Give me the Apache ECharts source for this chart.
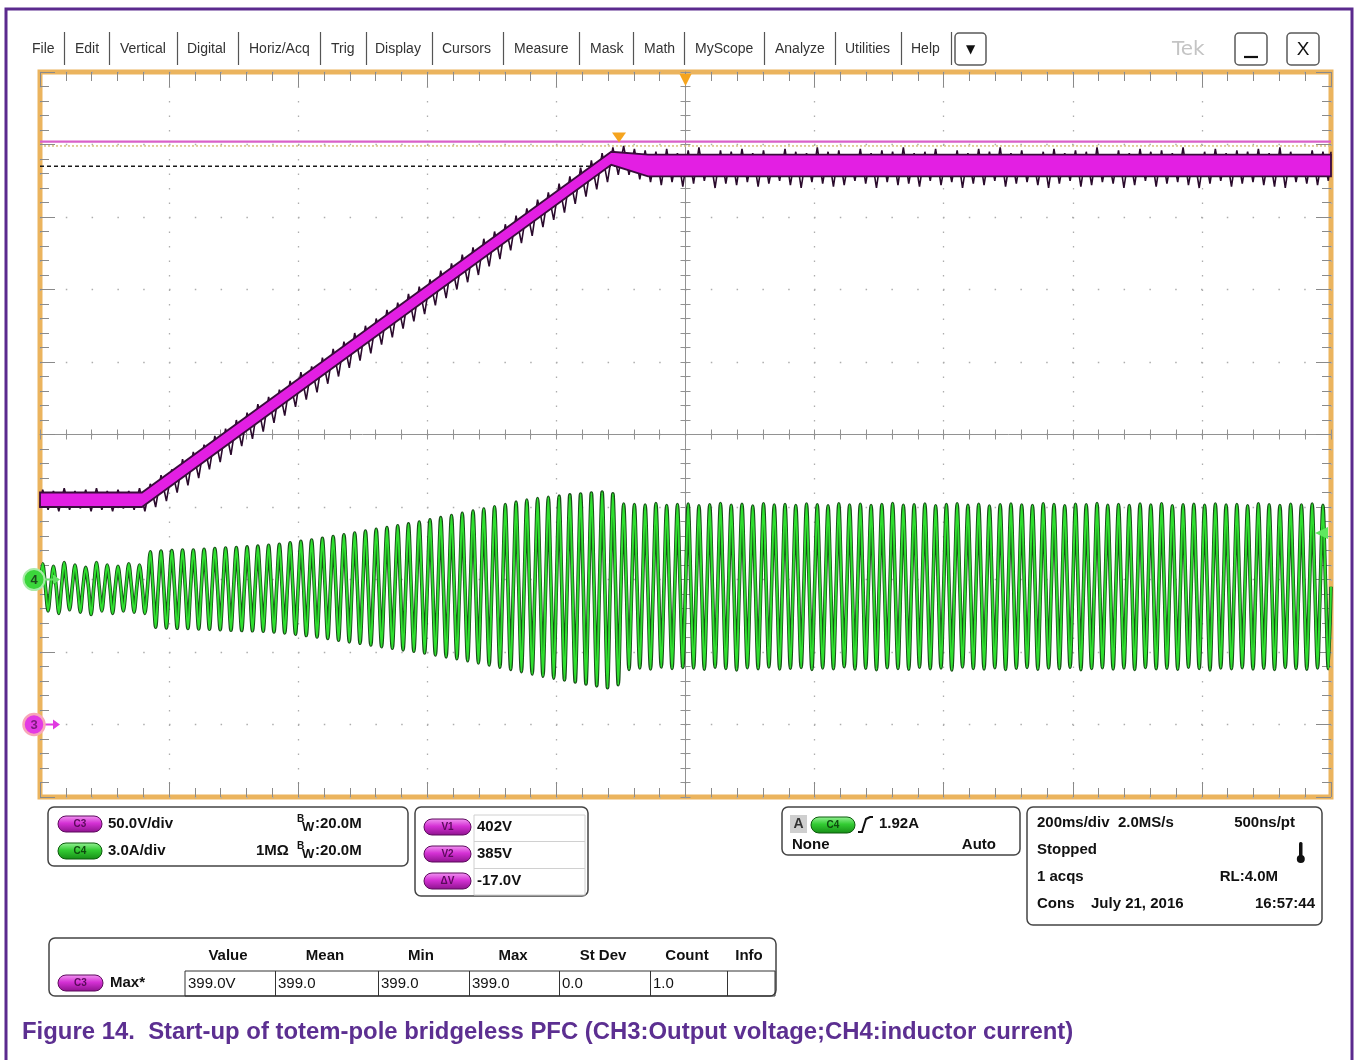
<!DOCTYPE html>
<html>
<head>
<meta charset="utf-8">
<title>Start-up of totem-pole bridgeless PFC</title>
<script src="https://cdn.jsdelivr.net/npm/echarts@6/dist/echarts.min.js"></script>
<style>
  html, body { margin: 0; padding: 0; background: #ffffff; }
  #scope { width: 1354px; height: 1060px; }
</style>
</head>
<body>
<div id="scope"></div>
<script>
// ---- Time base: 200 ms/div, 10 divisions, trigger at the centre ----
const TIME_MIN = -1000, TIME_MAX = 1000, TIME_DIV = 200;
const LINE_PERIOD = 1000 / 60;           // one 60 Hz mains cycle, ms

// ---- Vertical scales: CH3 50 V/div, CH4 3 A/div ----
const V_MIN = -50, V_MAX = 450, V_DIV = 50;
const I_MIN = -9, I_MAX = 21, I_DIV = 3;

// ---- CH3 output voltage: body of the trace (V) at its breakpoints (ms) ----
const vBandTime = [-1000, -842, -115, -58, 1000];
const vBandHi   = [160, 160, 395, 393, 393];
const vBandLo   = [150, 150, 386, 378, 378];

// ---- CH3 ripple spikes: upper / lower extreme in each mains cycle (V) ----
const vSpikeHi = [
  162,161,163,161,162,163,161,162,161,163,
  166,172,176,183,188,193,199,204,210,215,
  221,226,231,237,243,247,253,259,264,270,
  275,280,286,291,297,302,307,313,318,324,
  329,335,340,345,351,356,362,367,373,378,
  384,389,394,398,399,397,396,395,397,394,
  396,398,393,396,395,397,394,396,393,397,
  395,394,398,395,396,393,397,394,396,395,
  398,394,395,397,393,396,394,397,395,398,
  394,396,393,395,397,394,396,395,398,393,
  396,394,397,395,396,394,398,393,395,397,
  394,396,395,397,394,398,395,393,396,395
];
const vSpikeLo = [
  148,147,148,149,147,148,147,149,148,147,
  150,154,160,165,170,176,181,186,192,197,
  202,208,213,219,224,229,235,240,246,251,
  256,262,267,273,278,283,289,294,300,305,
  310,316,321,327,332,337,343,348,353,359,
  364,369,374,379,379,376,374,372,374,371,
  373,375,370,373,372,374,371,373,375,372,
  370,374,373,371,372,375,373,370,374,372,
  373,371,375,372,374,370,373,372,375,371,
  373,374,372,370,373,375,371,372,374,373,
  370,372,375,371,373,374,372,370,373,375,
  371,373,374,372,371,370,374,373,372,375
];

// ---- CH4 inductor current: positive / negative peak in each mains cycle (A) ----
const iPeakPos = [
  0.65,0.55,0.70,0.60,0.50,0.70,0.60,0.55,0.65,0.60,
  1.15,1.18,1.20,1.22,1.22,1.25,1.28,1.30,1.32,1.35,
  1.38,1.42,1.46,1.52,1.58,1.63,1.70,1.78,1.85,1.92,
  2.00,2.08,2.15,2.22,2.30,2.38,2.47,2.56,2.65,2.74,
  2.83,2.92,3.01,3.10,3.20,3.29,3.35,3.40,3.45,3.50,
  3.54,3.58,3.62,3.55,3.12,3.10,3.08,3.14,3.06,3.10,
  3.12,3.05,3.09,3.14,3.07,3.11,3.04,3.13,3.08,3.10,
  3.06,3.12,3.09,3.05,3.13,3.08,3.11,3.06,3.10,3.14,
  3.07,3.09,3.12,3.05,3.10,3.13,3.07,3.11,3.04,3.09,
  3.12,3.08,3.06,3.13,3.10,3.05,3.11,3.09,3.14,3.07,
  3.10,3.06,3.12,3.08,3.13,3.05,3.09,3.11,3.07,3.12,
  3.08,3.10,3.05,3.13,3.09,3.06,3.11,3.08,3.12,3.07
];
const iPeakNeg = [
  -1.30,-1.40,-1.25,-1.35,-1.45,-1.30,-1.40,-1.30,-1.35,-1.40,
  -1.97,-2.00,-2.02,-2.03,-2.05,-2.06,-2.08,-2.10,-2.11,-2.12,
  -2.14,-2.17,-2.21,-2.26,-2.32,-2.38,-2.44,-2.51,-2.58,-2.64,
  -2.71,-2.78,-2.84,-2.91,-2.97,-3.04,-3.12,-3.20,-3.28,-3.36,
  -3.45,-3.54,-3.63,-3.72,-3.81,-3.91,-4.00,-4.08,-4.16,-4.24,
  -4.32,-4.40,-4.48,-4.35,-3.72,-3.66,-3.70,-3.62,-3.68,-3.64,
  -3.66,-3.71,-3.63,-3.68,-3.74,-3.65,-3.69,-3.62,-3.70,-3.67,
  -3.64,-3.72,-3.66,-3.69,-3.61,-3.70,-3.67,-3.73,-3.65,-3.68,
  -3.71,-3.63,-3.69,-3.66,-3.74,-3.62,-3.68,-3.70,-3.65,-3.72,
  -3.67,-3.64,-3.71,-3.66,-3.69,-3.63,-3.73,-3.68,-3.65,-3.70,
  -3.66,-3.72,-3.64,-3.69,-3.67,-3.71,-3.63,-3.68,-3.74,-3.66,
  -3.69,-3.65,-3.70,-3.67,-3.72,-3.64,-3.68,-3.71,-3.66,-3.69
];
const iCrossing = -0.3;                  // level at the current zero crossings (A)

// ---- Cursors, trigger and measurement readouts ----
const cursorV1 = 402, cursorV2 = 385;
const measMaxValue = 399.0, measMaxTime = -103;
const trigLevelA = 1.92;

// ---- Readout panel texts ----
const menuItems = ['File','Edit','Vertical','Digital','Horiz/Acq','Trig','Display','Cursors',
                   'Measure','Mask','Math','MyScope','Analyze','Utilities','Help'];
const measHeaders = ['Value','Mean','Min','Max','St Dev','Count','Info'];
const measValues  = ['399.0V','399.0','399.0','399.0','0.0','1.0',''];
const cursorRows  = [['V1','402V'],['V2','385V'],['\u0394V','-17.0V']];
const captionText = 'Figure 14.  Start-up of totem-pole bridgeless PFC (CH3:Output voltage;CH4:inductor current)';

// ================= build traces =================
const currentTrace = [];
for (let i = 0; i < iPeakPos.length; i++) {
  const t0 = TIME_MIN + i * LINE_PERIOD;
  currentTrace.push([t0, iCrossing]);
  currentTrace.push([t0 + LINE_PERIOD / 4, iPeakPos[i]]);
  currentTrace.push([t0 + LINE_PERIOD / 2, iCrossing]);
  currentTrace.push([t0 + 3 * LINE_PERIOD / 4, iPeakNeg[i]]);
}
currentTrace.push([TIME_MAX, iCrossing]);

const voltageSpikes = [[TIME_MIN, vBandLo[0]]];
for (let i = 0; i < vSpikeHi.length; i++) {
  const t0 = TIME_MIN + i * LINE_PERIOD;
  voltageSpikes.push([t0 + LINE_PERIOD / 4, vSpikeHi[i]]);
  voltageSpikes.push([t0 + 3 * LINE_PERIOD / 4, vSpikeLo[i]]);
}
voltageSpikes.push([TIME_MAX, vSpikeHi[vSpikeHi.length - 1]]);

// ================= chart =================
const FONT = '"Liberation Sans", Arial, sans-serif';
const TICK_COLOR = '#8a8a8a';
const FRAME_COLOR = '#ebb45e';

const chart = echarts.init(document.getElementById('scope'), null, { renderer: 'canvas' });

function frameAxis(extra) {
  return Object.assign({
    type: 'value',
    axisLine: { show: false, onZero: false },
    axisLabel: { show: false },
    axisTick: { show: true, inside: true, length: 15, lineStyle: { color: TICK_COLOR, width: 1 } },
    minorTick: { show: true, splitNumber: 5, length: 9, lineStyle: { color: TICK_COLOR, width: 1 } },
    splitLine: { show: false }
  }, extra);
}
function centreAxis(extra, inside) {
  return Object.assign({
    type: 'value',
    axisLine: { show: inside, onZero: false, lineStyle: { color: '#929292', width: 1 } },
    axisLabel: { show: false },
    axisTick: { show: true, inside: inside, length: 5, lineStyle: { color: '#929292', width: 1 } },
    minorTick: { show: true, splitNumber: 5, length: 5, lineStyle: { color: '#929292', width: 1 } },
    splitLine: { show: false }
  }, extra);
}

const xScale = { min: TIME_MIN, max: TIME_MAX, interval: TIME_DIV };
const vScale = { min: V_MIN, max: V_MAX, interval: V_DIV };
const iScale = { min: I_MIN, max: I_MAX, interval: I_DIV };

chart.setOption({
  animation: false,
  backgroundColor: '#ffffff',
  grid: {
    left: 40, top: 72, width: 1291, height: 725,
    show: true, backgroundColor: '#ffffff',
    borderColor: FRAME_COLOR, borderWidth: 5,
    containLabel: false, outerBoundsMode: 'none'
  },
  xAxis: [
    frameAxis(Object.assign({ position: 'bottom',
      splitLine: { show: true, lineStyle: { color: '#adadad', width: 1.3, type: [1.5, 13] } } }, xScale)),
    frameAxis(Object.assign({ position: 'top' }, xScale)),
    centreAxis(Object.assign({ position: 'bottom', offset: -362.5 }, xScale), true),
    centreAxis(Object.assign({ position: 'bottom', offset: -362.5 }, xScale), false)
  ],
  yAxis: [
    frameAxis(Object.assign({ position: 'left',
      splitLine: { show: true, lineStyle: { color: '#adadad', width: 1.3, type: [1.5, 24.3] } } }, vScale)),
    frameAxis(Object.assign({ position: 'right' }, iScale)),
    centreAxis(Object.assign({ position: 'left', offset: -645.5 }, vScale), true),
    centreAxis(Object.assign({ position: 'left', offset: -645.5 }, vScale), false)
  ],
  series: [
    { // measurement level (Max)
      type: 'line', xAxisIndex: 0, yAxisIndex: 0, symbol: 'none', silent: true, z: 2,
      data: [[TIME_MIN, measMaxValue], [TIME_MAX, measMaxValue]],
      lineStyle: { color: '#d8c27c', width: 1.5, type: [2, 2] }
    },
    { // cursor V1
      type: 'line', xAxisIndex: 0, yAxisIndex: 0, symbol: 'none', silent: true, z: 2,
      data: [[TIME_MIN, cursorV1], [TIME_MAX, cursorV1]],
      lineStyle: { color: '#d961c9', width: 2.2 }
    },
    { // cursor V2
      type: 'line', xAxisIndex: 0, yAxisIndex: 0, symbol: 'none', silent: true, z: 2,
      data: [[TIME_MIN, cursorV2], [TIME_MAX, cursorV2]],
      lineStyle: { color: '#1a1a1a', width: 1.6, type: [4, 3] }
    },
    { // CH4 dark edge
      type: 'line', xAxisIndex: 0, yAxisIndex: 1, symbol: 'none', silent: true, z: 3,
      smooth: 0.3, data: currentTrace,
      lineStyle: { color: '#184f18', width: 3.6 }
    },
    { // CH4
      type: 'line', xAxisIndex: 0, yAxisIndex: 1, symbol: 'none', silent: true, z: 4,
      smooth: 0.3, data: currentTrace,
      lineStyle: { color: '#2fe02f', width: 2 }
    },
    { // CH3 ripple spikes
      type: 'line', xAxisIndex: 0, yAxisIndex: 0, symbol: 'none', silent: true, z: 5,
      data: voltageSpikes,
      lineStyle: { color: '#2a0a2c', width: 1.6 }
    },
    { // CH3 trace body
      type: 'custom', xAxisIndex: 0, yAxisIndex: 0, silent: true, z: 6,
      data: [[0, 0]],
      renderItem: function (params, api) {
        const up = vBandTime.map((t, k) => api.coord([t, vBandHi[k]]));
        const dn = vBandTime.map((t, k) => api.coord([t, vBandLo[k]])).reverse();
        return {
          type: 'polygon',
          shape: { points: up.concat(dn) },
          style: { fill: '#e31fe3', stroke: '#3a0c3c', lineWidth: 1.8 }
        };
      }
    }
  ]
});

// ================= scope screen furniture =================
function txt(x, y, s, o) {
  o = o || {};
  const st = {
    text: s, fill: o.fill || '#111',
    font: o.font || ('bold 15px ' + FONT),
    align: o.align || 'left', textAlign: o.align || 'left',
    verticalAlign: 'middle', textVerticalAlign: 'middle'
  };
  return { type: 'text', x: x, y: y, z: 100, silent: true, style: st };
}
function box(x, y, w, h, r, stroke, fill, lw) {
  return { type: 'rect', z: 99, silent: true,
    shape: { x: x, y: y, width: w, height: h, r: r },
    style: { fill: fill || 'none', stroke: stroke, lineWidth: lw || 1.5 } };
}
function line(x1, y1, x2, y2, color, lw) {
  return { type: 'line', z: 100, silent: true,
    shape: { x1: x1, y1: y1, x2: x2, y2: y2 },
    style: { stroke: color, lineWidth: lw || 1 } };
}
const MAGENTA_PILL = ['#f39af3', '#d531d5', '#8c128c', '#5d0a5d', '#5a0a5a'];
const GREEN_PILL = ['#9af39a', '#33cc33', '#168c16', '#0b5a0b', '#0f4a0f'];
function pill(x, yc, w, label, c) {
  const h = 16;
  return [
    { type: 'rect', z: 100, silent: true,
      shape: { x: x, y: yc - h / 2, width: w, height: h, r: h / 2 },
      style: {
        fill: new echarts.graphic.LinearGradient(0, 0, 0, 1, [
          { offset: 0, color: c[0] }, { offset: 0.45, color: c[1] }, { offset: 1, color: c[2] }]),
        stroke: c[3], lineWidth: 1 } },
    txt(x + w / 2, yc + 0.5, label, { font: 'bold 10px ' + FONT, fill: c[4], align: 'center' })
  ];
}
// bandwidth-limit readout: small raised B, lowered W
function bwText(x, y) {
  return [
    txt(x, y - 5, 'B', { font: 'bold 10px ' + FONT }),
    txt(x + 5, y + 3, 'W', { font: 'bold 13px ' + FONT }),
    txt(x + 18, y, ':20.0M')
  ];
}

const g = [];

// outer border
g.push({ type: 'rect', z: 98, silent: true, shape: { x: 6, y: 9, width: 1346, height: 1080 },
  style: { fill: 'none', stroke: '#5b2a8e', lineWidth: 3 } });

// menu bar
const menuX = [32, 75, 120, 187, 249, 331, 375, 442, 514, 590, 644, 695, 775, 845, 911];
const menuSep = [64, 109, 177, 238, 320, 366, 432, 503, 579, 633, 684, 764, 835, 901, 951];
menuItems.forEach((m, k) => g.push(txt(menuX[k], 49, m, { font: '14px ' + FONT, fill: '#333' })));
menuSep.forEach(x => g.push(line(x + 0.5, 32, x + 0.5, 65, '#555', 1.2)));
g.push(box(955, 33, 31, 32, 4, '#5a5a5a', '#fff', 1.5));
g.push(txt(970.5, 50, '\u25BC', { font: '12px "DejaVu Sans"', fill: '#111', align: 'center' }));
g.push(txt(1172, 50, 'Tek', { font: '20px "DejaVu Sans"', fill: '#c4c4c4' }));
g.push(box(1235, 33, 32, 32, 4, '#5a5a5a', '#fff', 1.5));
g.push(line(1244, 57, 1258, 57, '#111', 2.2));
g.push(box(1287, 33, 32, 32, 4, '#5a5a5a', '#fff', 1.5));
g.push(txt(1303, 50, 'X', { font: '19px ' + FONT, fill: '#111', align: 'center' }));

// channel / trigger markers placed on the axes' own scales
const px = (t, v, yi) => chart.convertToPixel({ xAxisIndex: 0, yAxisIndex: yi }, [t, v]);
const ch3Zero = px(TIME_MIN, 0, 0);
const ch4Zero = px(TIME_MIN, 0, 1);
const trigPos = px(0, V_MAX, 0);
const maxPos = px(measMaxTime, cursorV1, 0);
const trigLvl = px(TIME_MAX, trigLevelA, 1);

g.push({ type: 'polygon', z: 101, silent: true,
  shape: { points: [[trigPos[0] - 6, 74], [trigPos[0] + 6, 74], [trigPos[0], 86]] },
  style: { fill: '#f5a41e' } });
g.push({ type: 'polygon', z: 101, silent: true,
  shape: { points: [[maxPos[0] - 7, maxPos[1] - 9], [maxPos[0] + 7, maxPos[1] - 9], [maxPos[0], maxPos[1] + 1]] },
  style: { fill: '#f5a41e' } });
g.push({ type: 'polygon', z: 101, silent: true,
  shape: { points: [[trigLvl[0] - 3, trigLvl[1] - 6], [trigLvl[0] - 3, trigLvl[1] + 6], [trigLvl[0] - 16, trigLvl[1]]] },
  style: { fill: '#5fe85f' } });

// CH4 ground marker
g.push(line(44, ch4Zero[1], 54, ch4Zero[1], '#66e066', 2));
g.push({ type: 'polygon', z: 101, silent: true,
  shape: { points: [[53, ch4Zero[1] - 5], [53, ch4Zero[1] + 5], [60, ch4Zero[1]]] }, style: { fill: '#66e066' } });
g.push({ type: 'circle', z: 102, silent: true, shape: { cx: 34, cy: ch4Zero[1], r: 10.5 },
  style: { fill: '#3bd63b', stroke: '#a8eca8', lineWidth: 2 } });
g.push(Object.assign(txt(34, ch4Zero[1] + 0.5, '4', { font: 'bold 13px ' + FONT, fill: '#1c4a1c', align: 'center' }), { z: 103 }));

// CH3 ground marker
g.push(line(44, ch3Zero[1], 54, ch3Zero[1], '#e03ae0', 2));
g.push({ type: 'polygon', z: 101, silent: true,
  shape: { points: [[53, ch3Zero[1] - 5], [53, ch3Zero[1] + 5], [60, ch3Zero[1]]] }, style: { fill: '#e03ae0' } });
g.push({ type: 'circle', z: 102, silent: true, shape: { cx: 34, cy: ch3Zero[1], r: 10.5 },
  style: { fill: '#e33ae3', stroke: '#f7a7b8', lineWidth: 2.5 } });
g.push(Object.assign(txt(34, ch3Zero[1] + 0.5, '3', { font: 'bold 13px ' + FONT, fill: '#7a1a7a', align: 'center' }), { z: 103 }));

// vertical settings panel
g.push(box(48, 807, 360, 59, 6, '#444', '#fff'));
g.push(...pill(58, 824, 44, 'C3', MAGENTA_PILL));
g.push(txt(108, 824, '50.0V/div'));
g.push(...bwText(297, 824));
g.push(...pill(58, 851, 44, 'C4', GREEN_PILL));
g.push(txt(108, 851, '3.0A/div'));
g.push(txt(256, 851, '1M\u03A9'));
g.push(...bwText(297, 851));

// cursor readout panel
g.push(box(415, 807, 173, 89, 6, '#444', '#fff'));
g.push(box(474, 815, 111, 80, 0, '#d0d0d0', 'none', 1));
g.push(line(474, 841.5, 585, 841.5, '#d0d0d0', 1));
g.push(line(474, 868.5, 585, 868.5, '#d0d0d0', 1));
cursorRows.forEach((r, k) => {
  const y = 827 + k * 27;
  g.push(...pill(424, y, 47, r[0], MAGENTA_PILL));
  g.push(txt(477, y, r[1]));
});

// trigger panel
g.push(box(782, 807, 238, 48, 6, '#444', '#fff'));
g.push(box(790, 815, 17, 18, 0, 'none', '#cfcfcf', 0));
g.push(txt(798.5, 824.5, 'A', { align: 'center', font: 'bold 14px ' + FONT, fill: '#333' }));
g.push(...pill(811, 825, 44, 'C4', GREEN_PILL));
g.push({ type: 'polyline', z: 100, silent: true,
  shape: { points: [[858, 832], [862, 832], [866, 819], [870, 817], [873, 817]] },
  style: { stroke: '#111', lineWidth: 2, fill: 'none' } });
g.push(txt(879, 824, '1.92A'));
g.push(txt(792, 845, 'None'));
g.push(txt(996, 845, 'Auto', { align: 'right' }));

// acquisition panel
g.push(box(1027, 807, 295, 118, 6, '#444', '#fff'));
g.push(txt(1037, 823, '200ms/div  2.0MS/s'));
g.push(txt(1295, 823, '500ns/pt', { align: 'right' }));
g.push(txt(1037, 850, 'Stopped'));
g.push({ type: 'rect', z: 100, silent: true, shape: { x: 1299, y: 842, width: 3.5, height: 16, r: 1.5 }, style: { fill: '#111' } });
g.push({ type: 'circle', z: 100, silent: true, shape: { cx: 1300.8, cy: 859, r: 4 }, style: { fill: '#111' } });
g.push(txt(1037, 877, '1 acqs'));
g.push(txt(1278, 877, 'RL:4.0M', { align: 'right' }));
g.push(txt(1037, 904, 'Cons'));
g.push(txt(1091, 904, 'July 21, 2016'));
g.push(txt(1315, 904, '16:57:44', { align: 'right' }));

// measurement panel
g.push(box(49, 938, 727, 58, 6, '#444', '#fff'));
const headX = [228, 325, 421, 513, 603, 687, 749];
measHeaders.forEach((h, k) => g.push(txt(headX[k], 956, h, { align: 'center' })));
g.push(...pill(58, 983, 45, 'C3', MAGENTA_PILL));
g.push(txt(110, 983, 'Max*'));
const cellX = [185, 275, 378, 469, 559, 650, 727, 775];
g.push(box(185, 971, 590, 25, 0, '#333', 'none', 1));
cellX.slice(1, -1).forEach(x => g.push(line(x + 0.5, 971, x + 0.5, 996, '#333', 1)));
measValues.forEach((v, k) => g.push(txt(cellX[k] + 3, 983.5, v, { font: '15px ' + FONT })));

// figure caption
g.push(txt(22, 1032, captionText, { font: 'bold 23.9px ' + FONT, fill: '#5c2f91' }));

chart.setOption({ graphic: { elements: g } });
</script>
</body>
</html>
